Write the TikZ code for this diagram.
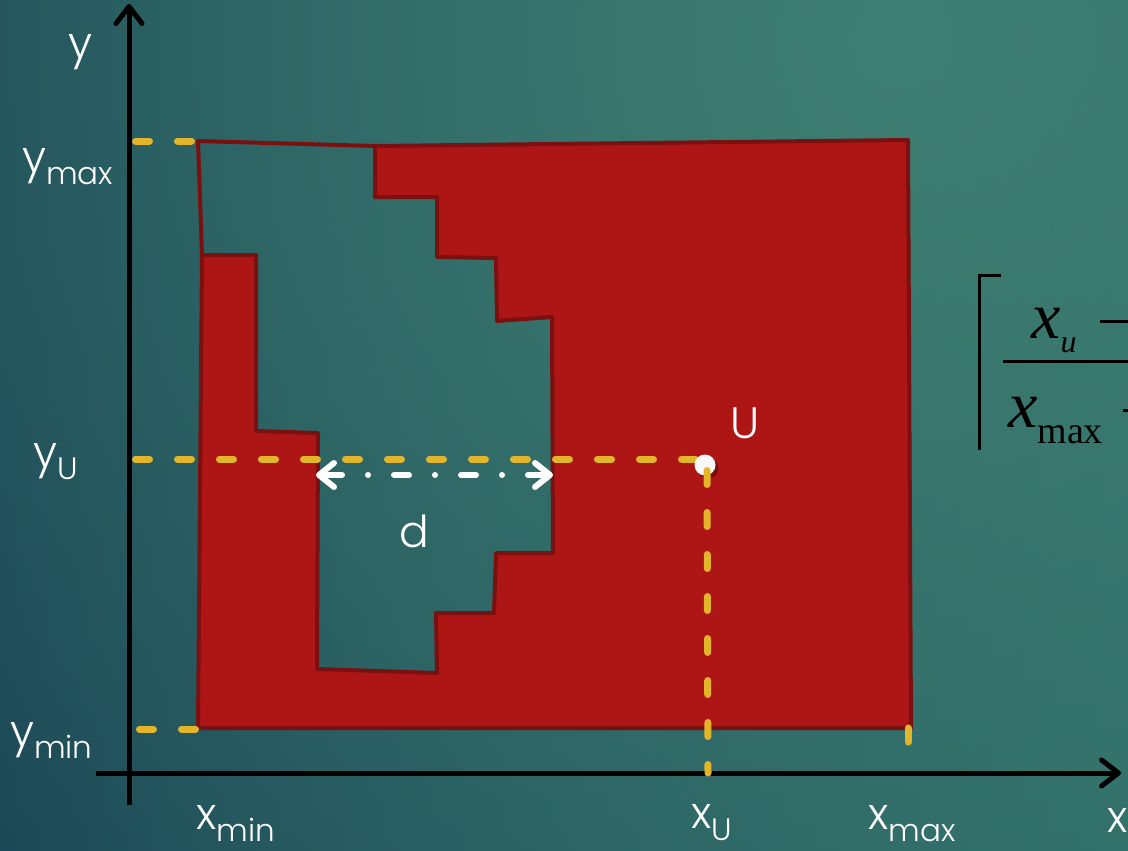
\documentclass[tikz,border=0pt]{standalone}
\usepackage{fontspec}
\setmainfont{Poppins}[UprightFont=* Light]
\newfontfamily\tnr{Liberation Serif}
\usetikzlibrary{arrows.meta,fadings}
\tikzfading[name=myglow, inner color=transparent!0, outer color=transparent!100]
\definecolor{bgleft}{HTML}{1A4555}
\definecolor{bgright}{HTML}{2D6B68}
\definecolor{bglight}{HTML}{3F7E72}
\definecolor{shapered}{HTML}{AE1515}
\definecolor{shapeline}{HTML}{7A1010}
\definecolor{dashyellow}{HTML}{E3B52A}
\newcommand\mylbl[2]{{\fontsize{44}{44}\selectfont #1}\raisebox{-12pt}{\fontsize{31}{31}\selectfont #2}}
\tikzset{
  lab/.style={text=white, inner sep=0pt, anchor=base west},
  fml/.style={text=black, inner sep=0pt, anchor=base west, font=\tnr},
  ydash/.style={draw=dashyellow, line width=7pt, line cap=round, dash pattern=on 14pt off 28pt},
  axisline/.style={draw=black, line width=5pt, -{Straight Barb[length=17pt,width=26pt,round]}},
  darrow/.style={draw=white, line width=6pt, line cap=round,
    {Straight Barb[length=15pt,width=24pt,round]}-{Straight Barb[length=15pt,width=24pt,round]},
    dash pattern=on 0pt off 26pt on 15pt off 26pt, dash phase=21pt},
  redshape/.style={fill=shapered, draw=shapeline, line width=4pt, line join=round},
  redline/.style={draw=shapeline, line width=4pt, line join=round},
  fmlline/.style={draw=black, line width=3pt}
}
\begin{document}
\begin{tikzpicture}[x=1pt,y=-1pt]
\useasboundingbox (0,0) rectangle (1128,851);
\clip (0,0) rectangle (1128,851);
% background
\shade[left color=bgleft, right color=bgright] (0,0) rectangle (1128,851);
\fill[bglight, path fading=myglow] (900,40) circle (1300pt);
% polygon
\coordinate (tl) at (198,141);
\coordinate (r1) at (375,146);
\coordinate (r2) at (908,140);
\coordinate (r3) at (911,728);
\coordinate (r4) at (198,728);
\coordinate (r5) at (202,255);
\coordinate (r6) at (256,255);
\coordinate (r7) at (256,431);
\coordinate (r8) at (318,433);
\coordinate (r9) at (317,669);
\coordinate (r10) at (437,673);
\coordinate (r11) at (436,613);
\coordinate (r12) at (494,613);
\coordinate (r13) at (496,553);
\coordinate (r14) at (553,553);
\coordinate (r15) at (552,317);
\coordinate (r16) at (497,321);
\coordinate (r17) at (496,258);
\coordinate (r18) at (437,257);
\coordinate (r19) at (437,197);
\coordinate (r20) at (375,197);
\filldraw[redshape] (r1) -- (r2) -- (r3) -- (r4) -- (r5) -- (r6) -- (r7) -- (r8) -- (r9) -- (r10) -- (r11) -- (r12) -- (r13) -- (r14) -- (r15) -- (r16) -- (r17) -- (r18) -- (r19) -- (r20) -- cycle;
\draw[redline] (r5) -- (tl) -- (r1);
% axes
\coordinate (yb) at (129,805);
\coordinate (yt) at (129,4);
\coordinate (xl) at (96,773);
\coordinate (xr) at (1121,773);
\draw[axisline] (yb) -- (yt);
\draw[axisline] (xl) -- (xr);
% yellow dashed guides
\coordinate (gymax1) at (135.5,141);
\coordinate (gymax2) at (196,141);
\coordinate (gyu1) at (135.5,459);
\coordinate (pu) at (705,465);
\coordinate (gyu2) at (699,459);
\coordinate (gxu1) at (707,470.5);
\coordinate (gxu2) at (708,773);
\coordinate (gymin1) at (139.5,729);
\coordinate (gymin2) at (199,729);
\coordinate (gymin3) at (199,747);
\coordinate (gxmax1) at (908,728);
\coordinate (gxmax2) at (908,745);
\draw[ydash] (gymax1) -- (gymax2);
\draw[ydash] (gyu1) -- (gyu2);
\draw[ydash, line join=round] (gymin1) -- (gymin2) -- (gymin3);
\draw[ydash] (gxmax1) -- (gxmax2);
% point U
\fill[black, opacity=0.3] (708,468) circle (10.5pt);
\node[circle, fill=white!96!gray, inner sep=0pt, minimum size=21pt] (U) at (pu) {};
\draw[ydash] (gxu1) -- (gxu2);
% distance arrow
\coordinate (dl) at (316,475);
\coordinate (dr) at (553,475);
\draw[darrow] (dl) -- (dr);
% labels
\node[lab] (ylab) at (68,59) {\fontsize{44}{44}\selectfont y};
\node[lab] (ymaxlab) at (22,172) {\mylbl{y}{max}};
\node[lab] (yulab) at (33,467) {\mylbl{y}{U}};
\node[lab] (yminlab) at (10,746) {\mylbl{y}{min}};
\node[lab] (xminlab) at (196,829) {\mylbl{x}{min}};
\node[lab] (xulab) at (691,828) {\mylbl{x}{U}};
\node[lab] (xmaxlab) at (868,829) {\mylbl{x}{max}};
\node[lab] (xlab) at (1107,832) {\fontsize{44}{44}\selectfont x};
\node[lab] (ulab) at (730,438) {\fontsize{44}{44}\selectfont U};
\node[lab] (dlab) at (399,547) {\fontsize{44}{44}\selectfont d};
% formula
\coordinate (bt) at (979,275);
\coordinate (btr) at (999,275);
\coordinate (bb) at (979,448);
\draw[fmlline, line cap=rect] (btr) -- (bt) -- (bb);
\coordinate (fb1) at (1003,361);
\coordinate (fb2) at (1140,361);
\draw[fmlline] (fb1) -- (fb2);
\coordinate (nm1) at (1100,321);
\coordinate (nm2) at (1140,321);
\draw[fmlline] (nm1) -- (nm2);
\coordinate (dm1) at (1123,410);
\coordinate (dm2) at (1140,410);
\draw[fmlline] (dm1) -- (dm2);
\node[fml] (num) at (1031,338) {{\fontsize{66}{66}\selectfont\itshape x}\raisebox{-14pt}{\fontsize{32}{32}\selectfont\itshape u}};
\node[fml] (den) at (1008,427) {{\fontsize{66}{66}\selectfont\itshape x}\raisebox{-16pt}{\fontsize{38}{38}\selectfont max}};
\end{tikzpicture}
\end{document}
